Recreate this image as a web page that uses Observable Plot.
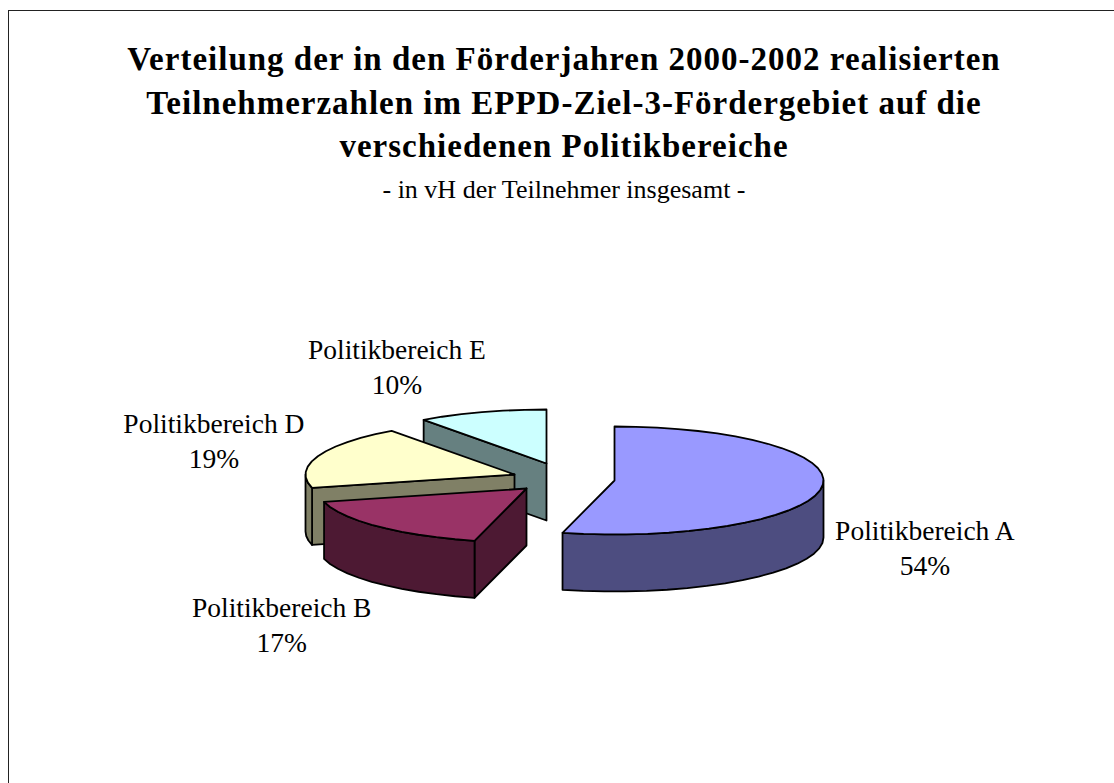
<!DOCTYPE html>
<html lang="de">
<head>
<meta charset="utf-8">
<script src="https://cdn.jsdelivr.net/npm/d3@7"></script>
<script src="https://cdn.jsdelivr.net/npm/@observablehq/plot@0.6"></script>
<style>
  html, body { margin: 0; padding: 0; background: #fff; overflow: hidden; width: 1114px; height: 783px; }
  #frame { position: absolute; left: 8px; top: 10px; width: 1300px; height: 1000px; border: 1.5px solid #222; box-sizing: border-box; }
  #head { position: absolute; left: 0; top: 0; width: 1128px; height: 210px; text-align: center; font-family: "Liberation Serif", serif; color: #000; }
  #title { position: absolute; top: 38px; width: 100%; font-weight: bold; font-size: 33px; line-height: 43.6px; letter-spacing: 1px; }
  #sub { position: absolute; top: 175px; width: 100%; font-size: 26px; line-height: 30px; }
  #chart { position: absolute; left: 0; top: 210px; }
  svg { display: block; background: transparent !important; }
</style>
</head>
<body>
<div id="frame"></div>
<div id="head">
  <div id="title">Verteilung der in den Förderjahren 2000-2002 realisierten<br>Teilnehmerzahlen im EPPD-Ziel-3-Fördergebiet auf die<br>verschiedenen Politikbereiche</div>
  <div id="sub">- in vH der Teilnehmer insgesamt -</div>
</div>
<div id="chart"></div>
<script>
// Data
const names = ["Politikbereich A", "Politikbereich B", "Politikbereich D", "Politikbereich E"];
const shares = [54, 17, 19, 10];

// Styles
const topColors = ["#9999ff", "#993366", "#ffffcc", "#ccffff"];
const sideColors = ["#4d4d80", "#4d1933", "#808066", "#668080"];

// Layout of the exploded, tilted pie
const centerX = [614, 526, 514, 546];
const centerY = [480, 488, 474, 463];
const rx = 209, ry = 54, depth = 57;
const labelDx = [103, -97, -104, -85];
const labelDy = [59, 97, -17, -47];
const paintOrder = [3, 2, 1, 0];

const total = d3.sum(shares);
let acc = 0;
const slices = shares.map((v, i) => {
  const a0 = acc / total * 360;
  acc += v;
  return {i, a0, a1: acc / total * 360};
});
const rad = d => d * Math.PI / 180;
const pt = (i, a, z = 0) => ({
  x: centerX[i] + rx * Math.sin(rad(a)),
  y: centerY[i] - ry * Math.cos(rad(a)) + z
});
const apex = (i, z = 0) => ({x: centerX[i], y: centerY[i] + z});
const arc = (i, a0, a1, z = 0) => {
  const n = Math.max(2, Math.ceil((a1 - a0) / 6));
  return d3.range(n + 1).map(k => pt(i, a0 + (a1 - a0) * k / n, z));
};
const face = (points, fill) => Plot.line([...points, points[0]], {
  x: "x", y: "y", fill, stroke: "#000", strokeWidth: 1.8, strokeLinejoin: "round"
});

const marks = [];
for (const idx of paintOrder) {
  const {i, a0, a1} = slices[idx];
  const wall = a => [apex(i), pt(i, a), pt(i, a, depth), apex(i, depth)];
  // radial walls are visible only when they turn toward the viewer
  if (Math.cos(rad(a0 - 90)) < -1e-6) marks.push(face(wall(a0), sideColors[i]));
  if (Math.cos(rad(a1 + 90)) < -1e-6) marks.push(face(wall(a1), sideColors[i]));
  // outer rim, front half only
  const r0 = Math.max(a0, 90), r1 = Math.min(a1, 270);
  if (r1 > r0) marks.push(face([...arc(i, r0, r1), ...arc(i, r0, r1, depth).reverse()], sideColors[i]));
  // top surface
  marks.push(face([apex(i), ...arc(i, a0, a1)], topColors[i]));
}

const labels = slices.map(({i, a0, a1}) => {
  const p = pt(i, (a0 + a1) / 2);
  return {x: p.x + labelDx[i], y: p.y + labelDy[i], text: `${names[i]}\n${shares[i]}%`};
});
marks.push(Plot.text(labels, {
  x: "x", y: "y", text: "text", fontSize: 27.5, lineHeight: 1.27,
  fontFamily: "Liberation Serif", fill: "#000", textAnchor: "middle"
}));

const svg = Plot.plot({
  width: 1114, height: 573,
  marginTop: 0, marginRight: 0, marginBottom: 0, marginLeft: 0,
  x: {domain: [0, 1114], range: [0, 1114], axis: null},
  y: {domain: [210, 783], range: [0, 573], axis: null},
  marks
});
document.getElementById("chart").appendChild(svg);
</script>
</body>
</html>
